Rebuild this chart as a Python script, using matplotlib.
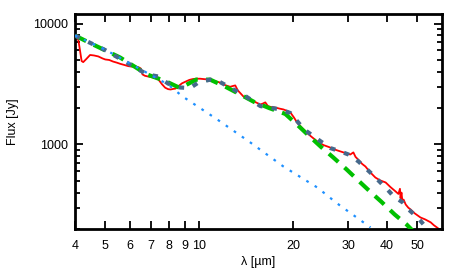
import matplotlib
matplotlib.use("Agg")
import matplotlib.pyplot as plt
from matplotlib.ticker import FixedLocator, NullFormatter, LogLocator, NullLocator

plt.rcParams['font.family'] = ['Liberation Sans', 'DejaVu Sans']

# ----- observed spectrum (red)
obs_wl = [4.00, 4.05, 4.10, 4.15, 4.20, 4.25, 4.35, 4.47, 4.60, 4.75, 4.90, 5.00,
          5.15, 5.30, 5.45, 5.58, 5.75, 5.92, 6.10, 6.25, 6.40, 6.50, 6.58, 6.70,
          6.86, 7.05, 7.23, 7.40, 7.60, 7.78, 7.95, 8.10, 8.25, 8.40, 8.60, 8.80,
          9.02, 9.30, 9.56, 9.80, 10.07, 10.40, 10.84, 11.20, 11.69, 12.10, 12.57,
          12.85, 13.05, 13.30, 13.85, 14.20, 14.58, 15.10, 15.70, 16.00, 16.29,
          16.60, 17.00, 17.54, 18.10, 18.61, 19.10, 19.60, 20.10, 20.60, 21.20,
          21.90, 22.80, 23.90, 25.00, 26.30, 27.30, 28.40, 29.40, 30.50, 31.20,
          31.70, 32.50, 33.30, 34.10, 35.30, 36.70, 38.00, 39.60, 41.00, 42.60,
          43.50, 44.00, 44.20, 44.50, 44.80, 45.20, 45.90, 46.80, 47.60, 49.00,
          51.20, 53.00, 55.20, 56.50, 58.10]
obs_flux = [7900, 7650, 7300, 6000, 4900, 4800, 5100, 5500, 5450, 5350, 5150, 5050,
            5000, 4850, 4750, 4650, 4550, 4450, 4400, 4420, 4350, 4250, 3800, 3700,
            3650, 3600, 3550, 3450, 3150, 2950, 2870, 2850, 2880, 2900, 3050, 3200,
            3300, 3420, 3480, 3500, 3500, 3470, 3440, 3350, 3250, 3100, 3000,
            3050, 3080, 2800, 2500, 2420, 2360, 2250, 2140, 2180, 2230,
            2080, 2040, 2020, 1980, 1950, 1900, 1840, 1680, 1520, 1400,
            1280, 1170, 1060, 990, 944, 905, 875, 850, 826, 860,
            790, 740, 690, 658, 590, 533, 505, 485, 445, 409,
            390, 430, 360, 400, 340, 350, 319, 300, 290, 270,
            249, 240, 227, 215, 204]

# ----- stellar component (light blue dotted)
star_wl = [4.0, 4.99, 7.95, 8.86, 11.43, 14.58, 18.61, 23.9, 27.7, 35.4]
star_flux = [7960, 6100, 3130, 2490, 1610, 1040, 658, 441, 325, 206]

# ----- model without cold dust (green dashed)
mod1_wl = [4.0, 4.57, 5.58, 6.81, 7.78, 8.69, 9.78, 10.84, 12.12, 13.45, 15.02,
           16.78, 18.88, 20.5, 22.7, 24.6, 26.9, 29.7, 32.2, 35.4, 38.4, 42.3,
           46.2, 48.2]
mod1_flux = [7960, 6710, 5240, 3790, 3350, 2930, 3440, 3440, 3010, 2615, 2245,
             2000, 1790, 1477, 1153, 953, 781, 621, 509, 405, 335, 264,
             218, 195]

# ----- full model (dark slate dotted)
mod2_wl = [4.0, 4.99, 6.81, 7.39, 7.95, 8.69, 9.35, 9.93, 10.84, 11.5, 13.15,
           14.05, 15.7, 18.2, 19.6, 21.7, 24.4, 26.3, 28.4, 30.1, 32.4, 35.9,
           38.1, 40.1, 42.0, 44.9, 46.9, 50.1, 52.4, 54.5]
mod2_flux = [7960, 6050, 3800, 3650, 3190, 2960, 2930, 3250, 3440, 3350, 2770,
             2520, 2080, 1950, 1820, 1330, 1070, 935, 875, 826, 724, 565,
             485, 425, 372, 332, 290, 249, 218, 198]

xticks = [4, 5, 6, 7, 8, 9, 10, 20, 30, 40, 50]

fig = plt.figure(figsize=(4.63, 2.78), dpi=100)
ax = fig.add_axes([0.162, 0.1763, 0.7926, 0.7733])

ax.plot(obs_wl, obs_flux, color='#ff0000', lw=1.3, zorder=2)
ax.plot(mod1_wl, mod1_flux, color='#00c000', lw=3, dashes=(3, 2), zorder=3)
ax.plot(mod2_wl, mod2_flux, color='#46698c', lw=3, dashes=(1.3, 2.2), zorder=4)
ax.plot(star_wl, star_flux, color='#1e90ff', lw=1.6, dashes=(1.2, 3.2), zorder=5)

ax.set_xscale('log')
ax.set_yscale('log')
ax.set_xlim(4, 60)
ax.set_ylim(200, 12000)

ax.xaxis.set_major_locator(FixedLocator(xticks))
ax.xaxis.set_minor_locator(NullLocator())
ax.set_xticklabels([str(t) for t in xticks])
ax.yaxis.set_major_locator(FixedLocator([1000, 10000]))
ax.set_yticklabels(['1000', '10000'])
ax.yaxis.set_minor_locator(LogLocator(base=10, subs=range(2, 10)))
ax.yaxis.set_minor_formatter(NullFormatter())

ax.tick_params(which='both', direction='in', top=True, right=True, width=1.3,
               labelsize=9)
ax.tick_params(which='major', length=6)
ax.tick_params(which='minor', length=3.5)
ax.tick_params(axis='x', pad=8)
ax.tick_params(axis='y', pad=5)
for s in ax.spines.values():
    s.set_linewidth(2)

ax.set_xlabel('λ [µm]', fontsize=9, labelpad=3)
ax.set_ylabel('Flux [Jy]', fontsize=9, labelpad=10)

fig.savefig('out.png', dpi=100)
